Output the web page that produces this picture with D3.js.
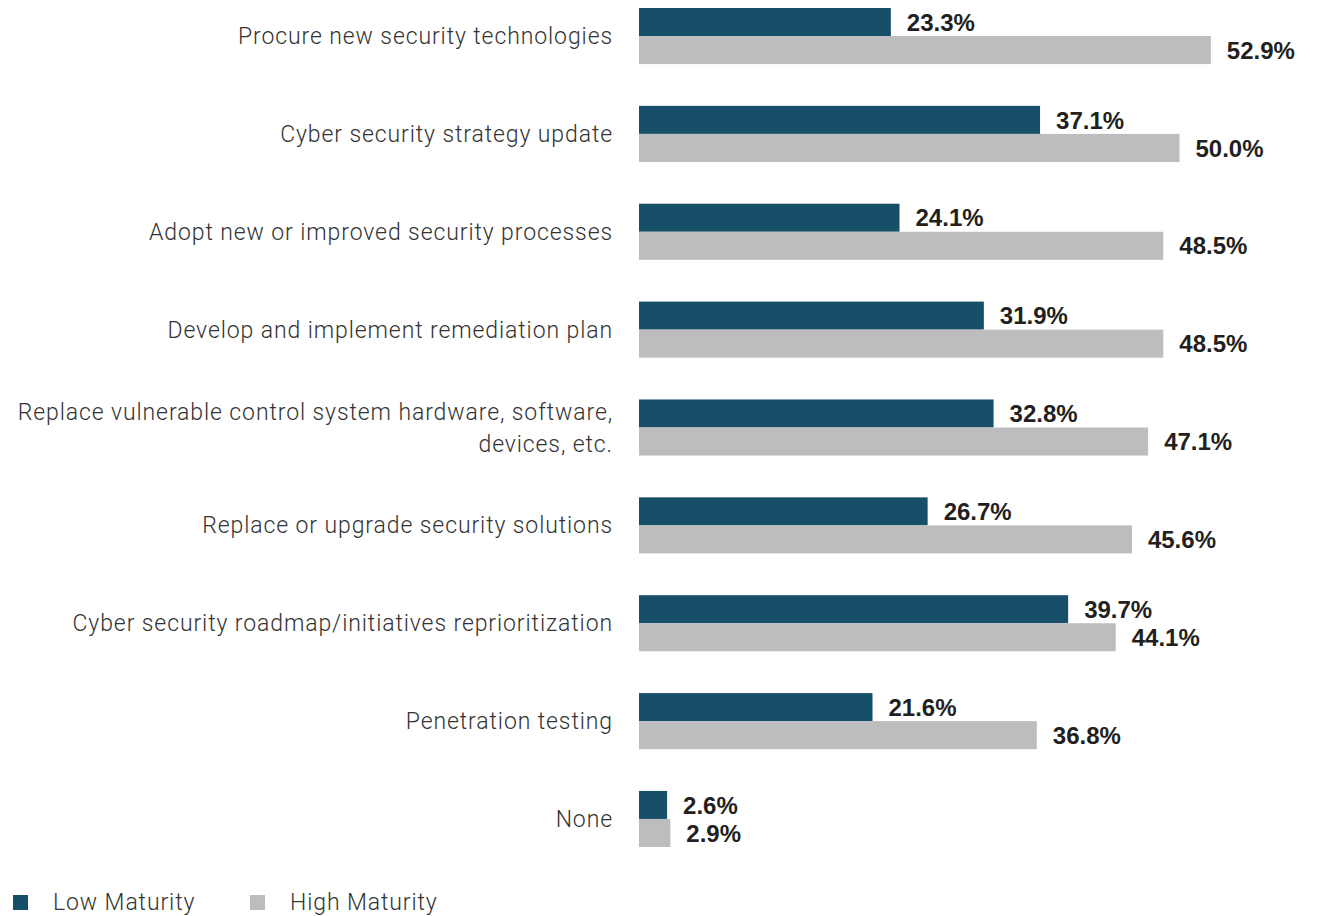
<!DOCTYPE html>
<html><head><meta charset="utf-8">
<script src="https://cdn.jsdelivr.net/npm/d3@7"></script>
<style>body{margin:0;background:#fff}svg{display:block}</style>
</head><body>
<svg id="c" width="1319" height="916"></svg>
<script>
const categories = [
  ["Procure new security technologies"],
  ["Cyber security strategy update"],
  ["Adopt new or improved security processes"],
  ["Develop and implement remediation plan"],
  ["Replace vulnerable control system hardware, software,", "devices, etc."],
  ["Replace or upgrade security solutions"],
  ["Cyber security roadmap/initiatives reprioritization"],
  ["Penetration testing"],
  ["None"]
];
const lowMaturity  = [23.3, 37.1, 24.1, 31.9, 32.8, 26.7, 39.7, 21.6, 2.6];
const highMaturity = [52.9, 50.0, 48.5, 48.5, 47.1, 45.6, 44.1, 36.8, 2.9];
const seriesNames = ["Low Maturity", "High Maturity"];
const colors = ["#174f69", "#bdbdbf"];

const labelFont = "Roboto, 'Liberation Sans', sans-serif";
const svg = d3.select("#c");
const x = d3.scaleLinear().domain([0, 100]).range([639, 1720]);
const y = d3.scaleBand().domain(d3.range(categories.length)).range([8, 847]).paddingInner(0.427).paddingOuter(0);
const bh = y.bandwidth() / 2;

const g = svg.append("g");
categories.forEach((c, i) => {
  const vals = [lowMaturity[i], highMaturity[i]];
  vals.forEach((v, k) => {
    const y0 = y(i) + k * bh;
    g.append("rect").attr("x", x(0)).attr("y", y0).attr("width", x(v) - x(0)).attr("height", bh).attr("fill", colors[k]);
    g.append("text").attr("x", x(v) + 16).attr("y", y0 + bh / 2).attr("dy", "0.36em")
      .attr("font-family", "'Liberation Sans', Arial, sans-serif").attr("font-weight", "bold")
      .attr("font-size", 24).attr("fill", "#231f20").text(d3.format(".1f")(v) + "%");
  });
  const cy = y(i) + y.bandwidth() / 2;
  const lh = 32;
  const t = g.append("text").attr("text-anchor", "end")
    .attr("font-family", labelFont).attr("font-weight", 300)
    .attr("font-size", 23).attr("letter-spacing", "0.9px").attr("fill", "#333");
  c.forEach((line, j) => {
    t.append("tspan").attr("x", 613).attr("y", cy + (j - (c.length - 1) / 2) * lh).attr("dy", "0.35em").text(line);
  });
});

const leg = svg.append("g");
const legX = [13, 250];
seriesNames.forEach((n, k) => {
  leg.append("rect").attr("x", legX[k]).attr("y", 895).attr("width", 15).attr("height", 15).attr("fill", colors[k]);
  leg.append("text").attr("x", legX[k] + 40).attr("y", 902).attr("dy", "0.36em")
    .attr("font-family", labelFont).attr("font-weight", 300).attr("letter-spacing", "0.9px")
    .attr("font-size", 23).attr("fill", "#333").text(n);
});
</script>
</body></html>
